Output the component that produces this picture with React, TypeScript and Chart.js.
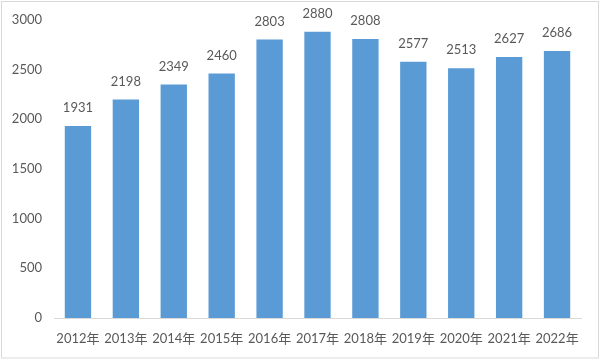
import React, { useEffect, useRef } from "react";
import { Chart, registerables } from "chart.js";

Chart.register(...registerables);

const categories = ["2012年", "2013年", "2014年", "2015年", "2016年", "2017年", "2018年", "2019年", "2020年", "2021年", "2022年"];
const values = [1931, 2198, 2349, 2460, 2803, 2880, 2808, 2577, 2513, 2627, 2686];
const yTicks = [0, 500, 1000, 1500, 2000, 2500, 3000];

const FONT = "Lato, 'Noto Sans CJK SC', sans-serif";
const TEXT = "#595959";

const valueLabels = {
  id: "valueLabels",
  afterDatasetsDraw(chart: any) {
    const ctx = chart.ctx;
    const meta = chart.getDatasetMeta(0);
    ctx.save();
    ctx.font = `13px ${FONT}`;
    ctx.fillStyle = TEXT;
    ctx.textAlign = "center";
    ctx.textBaseline = "middle";
    meta.data.forEach((el: any, i: number) => {
      ctx.fillText(String(values[i]), el.x, el.y - 18);
    });
    ctx.restore();
  },
};

const frame = {
  id: "frame",
  afterDraw(chart: any) {
    const ctx = chart.ctx;
    ctx.save();
    ctx.strokeStyle = "#d9d9d9";
    ctx.lineWidth = 1;
    ctx.strokeRect(1.5, 1.5, 597, 356.5);
    ctx.restore();
  },
};

export default function App() {
  const ref = useRef<HTMLCanvasElement | null>(null);
  useEffect(() => {
    if (!ref.current) return;
    const chart = new Chart(ref.current, {
      type: "bar",
      data: {
        labels: categories,
        datasets: [
          {
            data: values,
            backgroundColor: "#5B9BD5",
            borderWidth: 0,
            categoryPercentage: 1,
            barPercentage: 0.55,
          },
        ],
      },
      options: {
        animation: false,
        responsive: false,
        maintainAspectRatio: false,
        devicePixelRatio: 1,
        layout: { padding: { left: 0, top: 19, right: 19, bottom: 0 } },
        plugins: { legend: { display: false }, tooltip: { enabled: false } },
        scales: {
          x: {
            grid: { display: false, drawTicks: false },
            border: { display: true, color: "#d9d9d9", width: 1 },
            ticks: { color: TEXT, font: { family: FONT, size: 13 }, padding: 13, maxRotation: 0, autoSkip: false },
            afterFit: (s: any) => { s.height = 42; },
          },
          y: {
            min: 0,
            max: 3000,
            afterBuildTicks: (s: any) => { s.ticks = yTicks.map((v) => ({ value: v })); },
            grid: { display: false, drawTicks: false },
            border: { display: false },
            ticks: { color: TEXT, font: { family: FONT, size: 13 }, padding: 12, callback: (v: any) => String(v) },
            afterFit: (s: any) => { s.width = 54; },
          },
        },
      },
      plugins: [valueLabels, frame],
    });
    return () => chart.destroy();
  }, []);
  return (
    <div style={{ position: "fixed", left: 0, top: 0, width: 600, height: 360, background: "#fff" }}>
      <canvas ref={ref} width={600} height={360} style={{ width: 600, height: 360 }} />
    </div>
  );
}
